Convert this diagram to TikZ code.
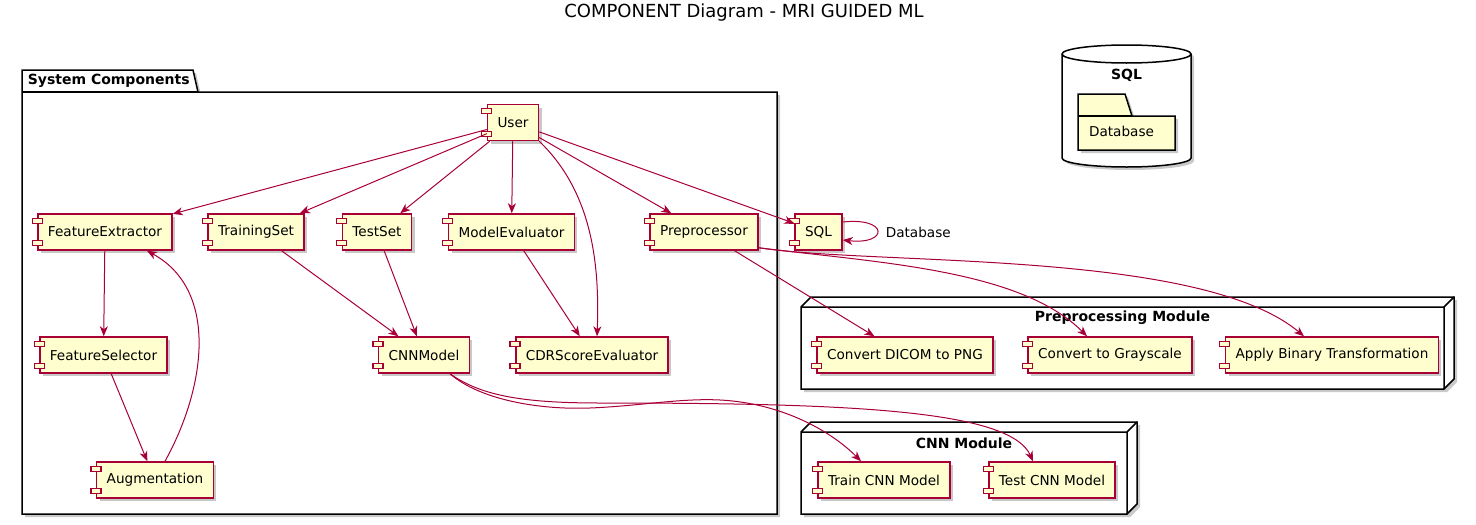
\documentclass[tikz,border=0pt]{standalone}
\usepackage{fontspec}
\setmainfont{DejaVu Sans}
\usetikzlibrary{arrows.meta,shadows,calc}

\definecolor{umlred}{HTML}{A80036}
\definecolor{umlyellow}{HTML}{FEFECE}

\tikzset{every picture/.style={line width=1pt}}
\tikzset{
  shade drop/.style={drop shadow={shadow xshift=3pt,shadow yshift=-3pt,opacity=0.3,fill=black!70}},
  comptab/.style={draw=umlred,fill=umlyellow,line width=1.2pt},
  comp/.style={draw=umlred,fill=umlyellow,line width=1.5pt,shade drop,
    minimum height=36pt,inner xsep=10pt,inner ysep=0pt,
    font=\fontsize{13.6}{16}\selectfont},
  link/.style={draw=umlred,line width=1pt,-{Stealth[length=10pt,width=8pt,inset=3pt]}},
  frame/.style={draw=black,line width=1.5pt},
  boxtitle/.style={font=\fontsize{14}{17}\selectfont\bfseries},
  plain/.style={font=\fontsize{13.6}{16}\selectfont},
  diagtitle/.style={font=\fontsize{18}{22}\selectfont}
}

\begin{document}
\begin{tikzpicture}[x=1pt,y=-1pt]
\useasboundingbox (0,0) rectangle (1476,525);

% Title
\node[diagtitle] (title) at (744,13) {COMPONENT Diagram - MRI GUIDED ML};

% Package: System Components
\draw[frame,fill=white,shade drop] (22,70) -- (193,70) -- (198,92) -- (777,92) -- (777,514) -- (22,514) -- cycle;
\draw[frame] (22,92) -- (198,92);
\node[boxtitle,anchor=west] (systitle) at (24,81) {System Components};

% Node: Preprocessing Module
\draw[frame,fill=white,shade drop] (801,307) -- (811,297) -- (1454,297) -- (1454,379) -- (1444,389) -- (801,389) -- cycle;
\draw[frame] (801,307) -- (1444,307) -- (1454,297) (1444,307) -- (1444,389);
\node[boxtitle] (pretitle) at (1122.5,318) {Preprocessing Module};

% Node: CNN Module
\draw[frame,fill=white,shade drop] (801,432) -- (811,422) -- (1137,422) -- (1137,504) -- (1127,514) -- (801,514) -- cycle;
\draw[frame] (801,432) -- (1127,432) -- (1137,422) (1127,432) -- (1127,514);
\node[boxtitle] (cnntitle) at (964,443) {CNN Module};

% Database: SQL
\draw[frame,fill=white,shade drop] (1062,54) -- (1062,158) arc[start angle=180,end angle=0,x radius=64.5,y radius=9] -- (1191,54) arc[start angle=0,end angle=-180,x radius=64.5,y radius=9] -- cycle;
\draw[frame] (1062,54) arc[start angle=180,end angle=0,x radius=64.5,y radius=9];
\node[boxtitle] (sqltitle) at (1126.5,75) {SQL};

% Folder: Database
\draw[frame,fill=umlyellow,shade drop] (1078,150) -- (1078,94) -- (1125,94) -- (1132,116) -- (1175,116) -- (1175,150) -- cycle;
\draw[frame] (1078,116) -- (1132,116);
\node[plain] (dbtitle) at (1121.5,131) {Database};

% Components
\node[comp] (user) at (513,122.5) {User};
\node[comp] (featext) at (105,232) {FeatureExtractor};
\node[comp] (trainset) at (256,232) {TrainingSet};
\node[comp] (testset) at (377,232) {TestSet};
\node[comp] (modeleval) at (511.5,232) {ModelEvaluator};
\node[comp] (preproc) at (704,232) {Preprocessor};
\node[comp] (sqlcomp) at (818.5,232) {SQL};
\node[comp] (featsel) at (103.5,355) {FeatureSelector};
\node[comp] (cnnmodel) at (424,355) {CNNModel};
\node[comp] (cdreval) at (592,355) {CDRScoreEvaluator};
\node[comp] (augment) at (155,480) {Augmentation};
\node[comp] (dicom) at (905,355) {Convert DICOM to PNG};
\node[comp] (gray) at (1110,355) {Convert to Grayscale};
\node[comp] (binary) at (1332,355) {Apply Binary Transformation};
\node[comp] (traincnn) at (884,480) {Train CNN Model};
\node[comp] (testcnn) at (1052,480) {Test CNN Model};

% Component tabs
\foreach \c in {user,featext,trainset,testset,modeleval,preproc,sqlcomp,featsel,cnnmodel,cdreval,augment,dicom,gray,binary,traincnn,testcnn} {
  \draw[comptab] ($(\c.north west)+(-5,5)$) rectangle ++(10,5);
  \draw[comptab] ($(\c.south west)+(-5,-10)$) rectangle ++(10,5);
}

% Links from User
\draw[link] (user) -- (featext);
\draw[link] (user) -- (trainset);
\draw[link] (user) -- (testset);
\draw[link] (user) -- (modeleval);
\draw[link] (user.south east) .. controls +(51,49) and +(3,-77) .. ($(cdreval.north)+(5,0)$);
\draw[link] (user) -- (preproc);
\draw[link] (user) -- (sqlcomp);

% SQL self link
\draw[link] ($(sqlcomp.east)+(0,-10)$) .. controls +(46,-5) and +(46,5) .. ($(sqlcomp.east)+(0,8)$);
\node[plain,anchor=west] (looplabel) at (882,232) {Database};

% Feature chain
\draw[link] (featext) -- (featsel);
\draw[link] (featsel) -- (augment);
\draw[link] ($(augment.north)+(10,0)$) .. controls +(40,-72) and +(73,40) .. ($(featext.south)+(42,0)$);

% Model links
\draw[link] (trainset) -- (cnnmodel);
\draw[link] (testset) -- (cnnmodel);
\draw[link] (modeleval) -- (cdreval);

% Preprocessing links
\draw[link] (preproc) -- (dicom);
\draw[link] ($(preproc.south east)+(0,-3)$) .. controls +(119,15) and +(-67,-67) .. ($(gray.north)+(-23,0)$);
\draw[link] ($(preproc.south east)+(0,-3)$) .. controls +(119,18) and +(-104,-87) .. ($(binary.north)+(-28,0)$);

% CNN links
\draw[link] ($(cnnmodel.south)+(26,0)$) .. controls (480,400) and (540,410) .. (590,408) .. controls (640,406) and (680,398) .. (720,400) .. controls (780,403) and (830,430) .. ($(traincnn.north)+(-23,0)$);
\draw[link] ($(cnnmodel.south)+(26,0)$) .. controls (480,395) and (520,403) .. (600,403) .. controls (850,403) and (1010,410) .. ($(testcnn.north)+(-19,0)$);

\end{tikzpicture}
\end{document}
